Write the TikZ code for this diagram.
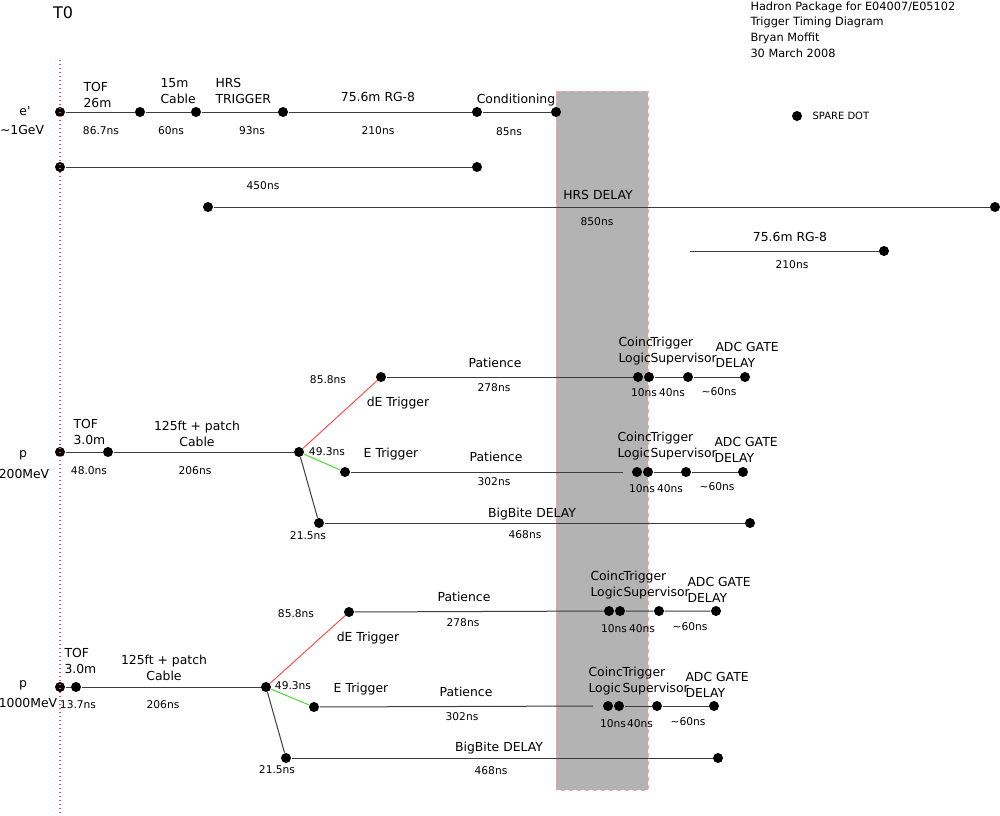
\documentclass[tikz,border=0pt]{standalone}
\usepackage{fontspec}
\setmainfont{DejaVu Sans}
\definecolor{boxgray}{RGB}{179,179,179}
\definecolor{boxedge}{RGB}{250,170,170}
\definecolor{tzero}{RGB}{240,80,80}
\definecolor{wiregray}{RGB}{60,60,60}
\definecolor{dered}{RGB}{255,80,80}
\definecolor{egreen}{RGB}{70,220,50}
\tikzset{every picture/.style={line width=0.75pt}}
\tikzset{
  dot/.style={circle,fill=black,inner sep=0pt,minimum size=7.5pt},
  wire/.style={draw=wiregray},
  lbl/.style={font=\fontsize{9.3}{12}\selectfont,inner sep=0pt,align=center},
  lbll/.style={lbl,anchor=west,align=left},
  tim/.style={font=\fontsize{8}{10}\selectfont,inner sep=0pt},
}

\begin{document}
\begin{tikzpicture}[x=0.75pt,y=0.75pt,yscale=-1,xscale=1]
\useasboundingbox (0,0) rectangle (1000,815);

%Shape: Rectangle (delay window)
\draw[fill=boxgray,draw=boxedge,dashed,line width=0.5pt] (556,91) rectangle (648,790);

% Text Node
\node[font=\fontsize{12}{14}\selectfont] (tzlbl) at (63,13) {T0};
% Text Node
\node[font=\fontsize{8.5}{11.8}\selectfont,anchor=north west,align=left,inner sep=0pt] (title) at (750,1) {Hadron Package for E04007/E05102\\Trigger Timing Diagram\\Bryan Moffit\\30 March 2008};

%e' row
\node[dot] (e0) at (60,112) {};
\node[dot] (e1) at (140,112) {};
\node[dot] (e2) at (196,112) {};
\node[dot] (e3) at (283,112) {};
\node[dot] (e4) at (477,112) {};
\node[dot] (e5) at (556,112) {};
\draw[wire] (e0) -- (e1) -- (e2) -- (e3) -- (e4) -- (e5);
\node[lbl] (elbl) at (25,111) {e\textquotesingle};
\node[lbl] (egev) at (22,130) {\textasciitilde1GeV};
\node[lbll] (etof) at (83,95) {TOF\\26m};
\node[lbll] (ecab) at (160,91) {15m\\Cable};
\node[lbll] (ehrs) at (215,91) {HRS\\TRIGGER};
\node[lbl] (erg) at (378,97) {75.6m RG-8};
\node[lbl] (econd) at (516,100) {Conditioning};
\node[tim] (et1) at (101,131) {86.7ns};
\node[tim] (et2) at (171,131) {60ns};
\node[tim] (et3) at (252,131) {93ns};
\node[tim] (et4) at (378,131) {210ns};
\node[tim] (et5) at (509,132) {85ns};

%450ns row
\node[dot] (f0) at (60,167) {};
\node[dot] (f1) at (477,167) {};
\draw[wire] (f0) -- (f1);
\node[tim] (ft1) at (263,186) {450ns};

%HRS delay row
\node[dot] (h0) at (208,207) {};
\node[dot] (h1) at (995,207) {};
\draw[wire] (h0) -- (h1);
\node[lbl] (hlbl) at (598,195) {HRS DELAY};
\node[tim] (ht1) at (597,222) {850ns};

%RG-8 row
\coordinate (r0) at (690,251);
\node[dot] (r1) at (884,251) {};
\draw[wire] (r0) -- (r1);
\node[lbl] (rlbl) at (790,237) {75.6m RG-8};
\node[tim] (rt1) at (792,265) {210ns};

%spare dot
\node[dot] (sp) at (797,116) {};
\node[font=\fontsize{7.5}{9}\selectfont,anchor=west,inner sep=0pt] (splbl) at (812,116) {SPARE DOT};

%p 200MeV
\node[dot] (a0) at (60,452) {};
\node[dot] (a1) at (108,452) {};
\node[dot] (a2) at (299,452) {};
\node[dot] (ad) at (381,377) {};
\node[dot] (ae) at (345,472) {};
\node[dot] (ab) at (319,523) {};
\draw[wire] (a0) -- (a1) -- (a2);
\draw[dered] (a2) -- (ad);
\draw[egreen] (a2) -- (ae);
\draw[wire] (a2) -- (ab);
\node[lbl] (ap) at (23,455) {p};
\node[lbl] (amev) at (24,474) {200MeV};
\node[lbll] (atof) at (73,432) {TOF\\3.0m};
\node[lbl] (acab) at (197,434) {125ft + patch\\Cable};
\node[tim] (at1) at (89,471) {48.0ns};
\node[tim] (at2) at (195,471) {206ns};
\node[tim] (at3) at (328,380) {85.8ns};
\node[tim] (at4) at (327,452) {49.3ns};
\node[tim] (at5) at (308,536) {21.5ns};
\node[lbl] (adlbl) at (398,403) {dE Trigger};
\node[lbl] (aelbl) at (391,454) {E Trigger};
% dE branch
\node[dot] (ad1) at (638,377) {};
\node[dot] (ad2) at (649,377) {};
\node[dot] (ad3) at (688,377) {};
\node[dot] (ad4) at (745,377) {};
\draw[wire] (ad) -- (ad1) -- (ad2) -- (ad3) -- (ad4);
\node[lbl] (adpat) at (495,363) {Patience};
\node[tim] (adt1) at (494,388) {278ns};
\node[lbll] (adco) at (618,351) {Coinc\\Logic};
\node[lbll] (adsu) at (650,351) {Trigger\\Supervisor};
\node[lbll] (adadc) at (715,355) {ADC GATE\\DELAY};
\node[tim] (adt2) at (644,393) {10ns};
\node[tim] (adt3) at (672,393) {40ns};
\node[tim] (adt4) at (719,392) {\textasciitilde60ns};
% E branch
\coordinate (aex) at (623,472);
\node[dot] (ae1) at (637,472) {};
\node[dot] (ae2) at (648,472) {};
\node[dot] (ae3) at (686,472) {};
\node[dot] (ae4) at (743,472) {};
\draw[wire] (ae) -- (aex);
\draw[wire] (ae2) -- (ae3) -- (ae4);
\node[lbl] (aepat) at (496,457) {Patience};
\node[tim] (aet1) at (494,482) {302ns};
\node[lbll] (aeco) at (617,446) {Coinc\\Logic};
\node[lbll] (aesu) at (650,446) {Trigger\\Supervisor};
\node[lbll] (aeadc) at (714,450) {ADC GATE\\DELAY};
\node[tim] (aet2) at (642,489) {10ns};
\node[tim] (aet3) at (670,489) {40ns};
\node[tim] (aet4) at (717,487) {\textasciitilde60ns};
% BigBite branch
\node[dot] (ab1) at (750,523) {};
\draw[wire] (ab) -- (ab1);
\node[lbl] (ablbl) at (532,514) {BigBite DELAY};
\node[tim] (abt1) at (525,535) {468ns};

%p 1000MeV
\node[dot] (b0) at (60,687) {};
\node[dot] (b1) at (76,687) {};
\node[dot] (b2) at (266,687) {};
\node[dot] (bd) at (349,612) {};
\node[dot] (be) at (314,707) {};
\node[dot] (bb) at (286,758) {};
\draw[wire] (b0) -- (b1) -- (b2);
\draw[dered] (b2) -- (bd);
\draw[egreen] (b2) -- (be);
\draw[wire] (b2) -- (bb);
\node[lbl] (bp) at (23,685) {p};
\node[lbl] (bmev) at (28,703) {1000MeV};
\node[lbll] (btof) at (64,661) {TOF\\3.0m};
\node[lbl] (bcab) at (164,668) {125ft + patch\\Cable};
\node[tim] (bt1) at (78,705) {13.7ns};
\node[tim] (bt2) at (163,705) {206ns};
\node[tim] (bt3) at (296,614) {85.8ns};
\node[tim] (bt4) at (293,686) {49.3ns};
\node[tim] (bt5) at (277,770) {21.5ns};
\node[lbl] (bdlbl) at (368,638) {dE Trigger};
\node[lbl] (belbl) at (361,689) {E Trigger};
% dE branch
\node[dot] (bd1) at (609,611) {};
\node[dot] (bd2) at (620,611) {};
\node[dot] (bd3) at (659,611) {};
\node[dot] (bd4) at (716,611) {};
\draw[wire] (bd) -- (bd1) -- (bd2) -- (bd3) -- (bd4);
\node[lbl] (bdpat) at (464,597) {Patience};
\node[tim] (bdt1) at (463,623) {278ns};
\node[lbll] (bdco) at (590,585) {Coinc\\Logic};
\node[lbll] (bdsu) at (623,585) {Trigger\\Supervisor};
\node[lbll] (bdadc) at (687,590) {ADC GATE\\DELAY};
\node[tim] (bdt2) at (614,629) {10ns};
\node[tim] (bdt3) at (642,629) {40ns};
\node[tim] (bdt4) at (690,627) {\textasciitilde60ns};
% E branch
\coordinate (bex) at (593,706);
\node[dot] (be1) at (608,706) {};
\node[dot] (be2) at (619,706) {};
\node[dot] (be3) at (657,706) {};
\node[dot] (be4) at (714,706) {};
\draw[wire] (be) -- (bex);
\draw[wire] (be2) -- (be3) -- (be4);
\node[lbl] (bepat) at (466,692) {Patience};
\node[tim] (bet1) at (462,717) {302ns};
\node[lbll] (beco) at (588,681) {Coinc\\Logic};
\node[lbll] (besu) at (622,681) {Trigger\\Supervisor};
\node[lbll] (beadc) at (685,685) {ADC GATE\\DELAY};
\node[tim] (bet2) at (613,724) {10ns};
\node[tim] (bet3) at (640,724) {40ns};
\node[tim] (bet4) at (688,722) {\textasciitilde60ns};
% BigBite branch
\node[dot] (bb1) at (718,758) {};
\draw[wire] (bb) -- (bb1);
\node[lbl] (bblbl) at (499,748) {BigBite DELAY};
\node[tim] (bbt1) at (491,771) {468ns};

%T0 marker line
\coordinate (tz0) at (60,60);
\coordinate (tz1) at (60,815);
\draw[tzero,dotted,line width=1pt] (tz0) -- (tz1);

\end{tikzpicture}
\end{document}
